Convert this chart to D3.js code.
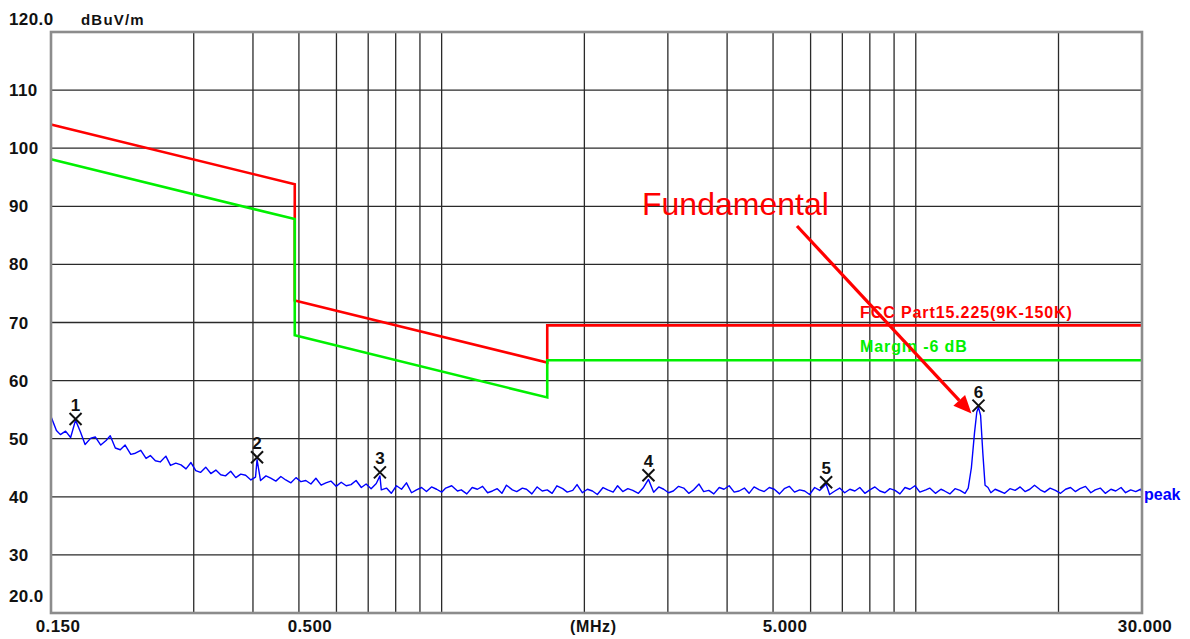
<!DOCTYPE html>
<html>
<head>
<meta charset="utf-8">
<script src="https://cdn.jsdelivr.net/npm/d3@7/dist/d3.min.js"></script>
<style>
  html, body { margin: 0; padding: 0; background: #fff; }
  svg { display: block; }
  text { font-family: "Liberation Sans", Arial, sans-serif; }
</style>
</head>
<body>
<svg id="chart" width="1190" height="639"></svg>
<script>
// ---------------- data ----------------
const yTickValues = [120, 110, 100, 90, 80, 70, 60, 50, 40, 30, 20];
const yTickLabels = ["120.0", "110", "100", "90", "80", "70", "60", "50", "40", "30", "20.0"];
const xGridFreqs = [0.3, 0.4, 0.5, 0.6, 0.7, 0.8, 0.9, 1, 2, 3, 4, 5, 6, 7, 8, 9, 10, 20];
const yGridValues = [30, 40, 50, 60, 70, 80, 90, 100, 110];
const xTickFreqs = [0.15, 0.5, 5, 30];
const xTickLabels = ["0.150", "0.500", "5.000", "30.000"];

const limitFreq = [0.15, 0.49, 0.49, 1.67, 1.67, 30];
const limitLevel = [104.08, 93.8, 73.8, 63.1, 69.5, 69.5];
const marginLevel = [98.08, 87.8, 67.8, 57.1, 63.5, 63.5];

const markerFreq = [0.169, 0.408, 0.741, 2.73, 6.47, 13.56];
const markerLevel = [53.4, 46.8, 44.2, 43.7, 42.5, 55.7];
const markerLabels = ["1", "2", "3", "4", "5", "6"];

// peak-detector trace: [MHz, dBuV/m]
const trace = [[0.150,53.8],[0.154,51.4],[0.157,50.7],[0.161,51.3],[0.165,50.2],[0.169,53.2],[0.173,51.2],[0.177,49.0],[0.182,50.1],[0.186,50.3],[0.191,48.9],[0.196,49.7],[0.200,50.5],[0.205,48.4],[0.210,48.1],[0.215,48.9],[0.221,47.3],[0.226,47.5],[0.232,48.0],[0.238,46.6],[0.243,47.1],[0.249,46.2],[0.255,46.0],[0.262,47.0],[0.268,45.4],[0.275,45.8],[0.282,45.5],[0.289,44.8],[0.296,45.9],[0.303,44.5],[0.310,44.2],[0.318,45.1],[0.326,44.0],[0.334,44.6],[0.342,43.8],[0.350,43.6],[0.359,44.4],[0.368,43.3],[0.377,43.9],[0.386,43.7],[0.396,42.9],[0.405,43.4],[0.408,46.4],[0.415,42.8],[0.426,43.6],[0.436,43.2],[0.447,42.7],[0.458,43.5],[0.469,42.9],[0.481,42.4],[0.493,43.3],[0.505,42.6],[0.517,42.8],[0.530,42.2],[0.543,43.2],[0.557,42.0],[0.570,42.4],[0.584,42.7],[0.599,41.8],[0.614,42.5],[0.629,41.9],[0.644,42.1],[0.660,42.8],[0.677,41.6],[0.693,42.2],[0.710,41.4],[0.728,42.3],[0.741,43.6],[0.746,41.2],[0.765,41.5],[0.783,40.6],[0.803,41.9],[0.823,41.3],[0.843,42.4],[0.864,40.7],[0.885,41.2],[0.907,41.6],[0.929,40.9],[0.952,41.7],[0.976,41.3],[1.00,40.8],[1.02,41.5],[1.05,41.9],[1.08,41.0],[1.10,41.2],[1.13,40.5],[1.16,41.6],[1.19,41.3],[1.22,41.8],[1.25,40.7],[1.28,41.0],[1.31,41.4],[1.34,40.6],[1.37,42.0],[1.41,41.2],[1.44,40.9],[1.48,41.5],[1.51,41.3],[1.55,40.5],[1.59,41.7],[1.63,41.0],[1.67,41.2],[1.71,40.6],[1.75,41.9],[1.80,41.4],[1.84,40.8],[1.89,41.1],[1.93,42.1],[1.98,40.7],[2.03,41.3],[2.08,41.0],[2.13,40.4],[2.19,41.6],[2.24,41.2],[2.30,40.8],[2.35,41.9],[2.41,40.9],[2.47,41.4],[2.53,41.1],[2.60,40.6],[2.66,41.5],[2.73,43.0],[2.80,40.8],[2.87,41.7],[2.94,41.3],[3.01,40.7],[3.08,41.0],[3.16,41.8],[3.24,41.5],[3.32,40.6],[3.40,41.2],[3.49,42.2],[3.57,40.9],[3.66,41.1],[3.75,40.5],[3.85,41.6],[3.94,41.3],[4.04,41.9],[4.14,40.8],[4.24,41.0],[4.35,41.5],[4.45,40.6],[4.56,41.7],[4.68,41.2],[4.79,40.9],[4.91,41.6],[5.03,41.3],[5.16,40.5],[5.28,41.4],[5.41,41.8],[5.55,40.8],[5.69,41.2],[5.83,41.0],[5.97,40.4],[6.12,41.6],[6.27,41.1],[6.47,42.2],[6.58,40.4],[6.75,41.0],[6.91,41.5],[7.08,40.7],[7.26,41.3],[7.44,41.0],[7.62,41.6],[7.81,40.6],[8.00,41.2],[8.20,41.7],[8.40,41.0],[8.61,40.7],[8.82,41.4],[9.04,41.1],[9.26,40.5],[9.49,41.6],[9.72,41.3],[9.96,41.9],[10.2,40.8],[10.5,41.2],[10.7,41.5],[11.0,40.6],[11.3,41.3],[11.5,41.0],[11.8,40.5],[12.1,41.4],[12.4,41.1],[12.7,40.6],[12.9,41.5],[13.1,45.0],[13.3,51.0],[13.45,54.6],[13.56,55.4],[13.7,54.0],[13.85,47.5],[14.0,42.0],[14.2,41.6],[14.4,40.7],[14.7,41.3],[15.0,41.0],[15.4,40.6],[15.8,41.4],[16.2,41.1],[16.6,41.7],[17.0,40.9],[17.4,41.3],[17.8,42.0],[18.3,41.2],[18.7,40.8],[19.2,41.5],[19.7,41.1],[20.2,40.6],[20.7,41.3],[21.2,41.6],[21.7,40.9],[22.2,41.4],[22.8,41.8],[23.4,40.7],[23.9,41.2],[24.5,41.5],[25.1,40.6],[25.8,41.3],[26.4,41.0],[27.1,41.6],[27.7,40.7],[28.4,41.2],[29.1,40.9],[29.8,41.3],[30.0,40.8]];

// ---------------- layout ----------------
const svg = d3.select("#chart");
const plot = { left: 51, right: 1142, top: 32, bottom: 613 };
const x = d3.scaleLog().domain([0.15, 30]).range([plot.left, plot.right]);
const y = d3.scaleLinear().domain([20, 120]).range([plot.bottom, plot.top]);

svg.append("rect").attr("width", 1190).attr("height", 639).attr("fill", "#fff");

// grid
const grid = svg.append("g").attr("stroke", "#2a2a2a").attr("stroke-width", 1.3);
grid.selectAll("line.v").data(xGridFreqs).join("line")
  .attr("x1", d => x(d)).attr("x2", d => x(d))
  .attr("y1", plot.top).attr("y2", plot.bottom);
grid.selectAll("line.h").data(yGridValues).join("line")
  .attr("x1", plot.left).attr("x2", plot.right)
  .attr("y1", d => y(d)).attr("y2", d => y(d));

// y labels
const yOffsets = d => d === 120 ? -7 : (d === 20 ? -11 : 6);
svg.append("g").selectAll("text").data(yTickValues).join("text")
  .attr("x", 9).attr("y", d => y(d) + yOffsets(d))
  .attr("font-size", 17).attr("font-weight", "bold").attr("fill", "#111")
  .attr("letter-spacing", 0.4)
  .text((d, i) => yTickLabels[i]);

svg.append("text").attr("x", 81).attr("y", 25)
  .attr("font-size", 15).attr("font-weight", "bold").attr("fill", "#111")
  .attr("letter-spacing", 1.2).text("dBuV/m");

// x labels
const xLabelShift = [7, 11, 12, 3];
svg.append("g").selectAll("text").data(xTickFreqs).join("text")
  .attr("x", (d, i) => x(d) + xLabelShift[i]).attr("y", 632)
  .attr("text-anchor", "middle")
  .attr("font-size", 17).attr("font-weight", "bold").attr("fill", "#111")
  .attr("letter-spacing", 0.4)
  .text((d, i) => xTickLabels[i]);
svg.append("text").attr("x", x(2) + 9).attr("y", 632).attr("text-anchor", "middle")
  .attr("font-size", 16).attr("font-weight", "bold").attr("fill", "#111")
  .attr("letter-spacing", 0.6).text("(MHz)");

// limit lines
const line = d3.line().x(d => x(d[0])).y(d => y(d[1]));
const redPts = limitFreq.map((f, i) => [f, limitLevel[i]]);
const greenPts = limitFreq.map((f, i) => [f, marginLevel[i]]);
svg.append("path").attr("d", line(redPts)).attr("fill", "none")
  .attr("stroke", "#ff0000").attr("stroke-width", 2.6);
svg.append("path").attr("d", line(greenPts)).attr("fill", "none")
  .attr("stroke", "#00f000").attr("stroke-width", 2.6);

// trace
svg.append("path").attr("d", line(trace)).attr("fill", "none")
  .attr("stroke", "#0000ff").attr("stroke-width", 1.4).attr("stroke-linejoin", "round");

// border
svg.append("rect").attr("x", plot.left).attr("y", plot.top)
  .attr("width", plot.right - plot.left).attr("height", plot.bottom - plot.top)
  .attr("fill", "none").attr("stroke", "#8c8c8c").attr("stroke-width", 2.6);

// limit labels
svg.append("text").attr("x", 860).attr("y", y(69.5) - 7)
  .attr("font-size", 16).attr("font-weight", "bold").attr("fill", "#ff0000")
  .attr("letter-spacing", 0.9).text("FCC Part15.225(9K-150K)");
svg.append("text").attr("x", 860).attr("y", y(63.5) - 8)
  .attr("font-size", 16).attr("font-weight", "bold").attr("fill", "#00f000")
  .attr("letter-spacing", 0.9).text("Margin -6 dB");

// peak label
svg.append("text").attr("x", plot.right + 2).attr("y", y(41) + 9)
  .attr("font-size", 16).attr("font-weight", "bold").attr("fill", "#0000ff")
  .text("peak");

// markers
const mk = svg.append("g");
markerFreq.forEach((f, i) => {
  const cx = x(f), cy = y(markerLevel[i]);
  const s = 6;
  mk.append("line").attr("x1", cx - s).attr("y1", cy - s).attr("x2", cx + s).attr("y2", cy + s)
    .attr("stroke", "#111").attr("stroke-width", 2);
  mk.append("line").attr("x1", cx - s).attr("y1", cy + s).attr("x2", cx + s).attr("y2", cy - s)
    .attr("stroke", "#111").attr("stroke-width", 2);
  mk.append("text").attr("x", cx).attr("y", cy - 8).attr("text-anchor", "middle")
    .attr("font-size", 17).attr("font-weight", "bold").attr("fill", "#111")
    .text(markerLabels[i]);
});

// Fundamental annotation
svg.append("text").attr("x", 642).attr("y", 215)
  .attr("font-size", 32).attr("fill", "#ff0000").text("Fundamental");
const tipX = x(markerFreq[5]) - 7, tipY = y(markerLevel[5]) + 8;
const startX = 797, startY = 226;
const ang = Math.atan2(tipY - startY, tipX - startX);
const headLen = 18, headW = 8;
const baseX = tipX - headLen * Math.cos(ang), baseY = tipY - headLen * Math.sin(ang);
svg.append("line").attr("x1", startX).attr("y1", startY).attr("x2", baseX).attr("y2", baseY)
  .attr("stroke", "#ff0000").attr("stroke-width", 3.2);
svg.append("path")
  .attr("d", `M${tipX},${tipY} L${baseX + headW * Math.sin(ang)},${baseY - headW * Math.cos(ang)} L${baseX - headW * Math.sin(ang)},${baseY + headW * Math.cos(ang)} Z`)
  .attr("fill", "#ff0000");
</script>
</body>
</html>
